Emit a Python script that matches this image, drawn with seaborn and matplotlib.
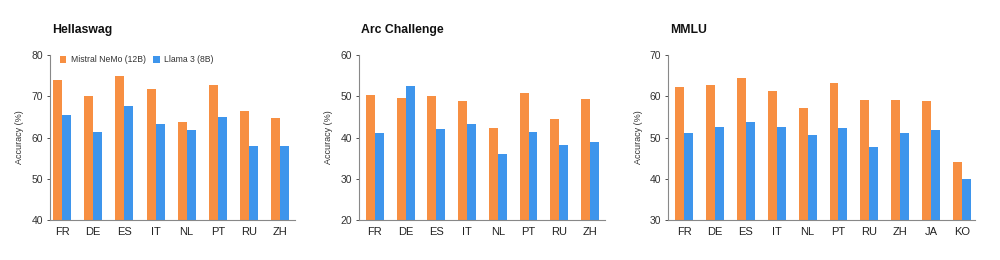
import matplotlib
matplotlib.use("Agg")
import matplotlib.pyplot as plt
import seaborn as sns
import pandas as pd

sns.set_theme(style="white")
plt.rcParams['font.family'] = ['Liberation Sans', 'DejaVu Sans']

models = ["Mistral NeMo (12B)", "Llama 3 (8B)"]
colors = ["#F78F42", "#3E95EC"]

hella_langs = ["FR", "DE", "ES", "IT", "NL", "PT", "RU", "ZH"]
hella_nemo = [74.0, 70.0, 75.0, 71.8, 63.7, 72.8, 66.4, 64.7]
hella_llama = [65.5, 61.3, 67.7, 63.3, 61.9, 64.9, 58.0, 57.9]

arc_langs = ["FR", "DE", "ES", "IT", "NL", "PT", "RU", "ZH"]
arc_nemo = [50.3, 49.5, 50.0, 48.8, 42.4, 50.7, 44.6, 49.4]
arc_llama = [41.1, 52.5, 42.1, 43.3, 35.9, 41.3, 38.1, 38.8]

mmlu_langs = ["FR", "DE", "ES", "IT", "NL", "PT", "RU", "ZH", "JA", "KO"]
mmlu_nemo = [62.3, 62.7, 64.5, 61.3, 57.1, 63.3, 59.2, 59.1, 58.9, 44.0]
mmlu_llama = [51.1, 52.5, 53.7, 52.6, 50.5, 52.4, 47.7, 51.0, 51.8, 40.0]

panels = [
    ("Hellaswag", hella_langs, hella_nemo, hella_llama, (40, 80), [0.050, 0.154, 0.245, 0.634], (-0.39, 7.48)),
    ("Arc Challenge", arc_langs, arc_nemo, arc_llama, (20, 60), [0.359, 0.154, 0.246, 0.634], (-0.52, 7.49)),
    ("MMLU", mmlu_langs, mmlu_nemo, mmlu_llama, (30, 70), [0.668, 0.154, 0.307, 0.634], (-0.52, 9.42)),
]

fig = plt.figure(figsize=(10, 2.6), dpi=100)
fig.patch.set_facecolor("white")

for i, (title, langs, nemo, llama, ylim, pos, xlim) in enumerate(panels):
    ax = fig.add_axes(pos)
    df = pd.DataFrame({
        "lang": langs * 2,
        "acc": nemo + llama,
        "model": [models[0]] * len(langs) + [models[1]] * len(langs),
    })
    sns.barplot(data=df, x="lang", y="acc", hue="model", hue_order=models,
                palette=colors, width=0.58, gap=0, saturation=1,
                ax=ax, legend=(i == 0))
    ax.set_ylim(*ylim)
    ax.set_xlim(*xlim)
    ax.set_yticks(range(ylim[0], ylim[1] + 1, 10))
    ax.set_xlabel("")
    ax.set_ylabel("Accuracy (%)", fontsize=6.5, color="#333333", labelpad=5)
    ax.tick_params(axis="x", labelsize=8, colors="#222222", length=0, pad=5)
    ax.tick_params(axis="y", labelsize=7.5, colors="#333333", length=2, width=0.6, left=True, pad=3)
    for s in ["top", "right"]:
        ax.spines[s].set_visible(False)
    for s in ["left", "bottom"]:
        ax.spines[s].set_color("#888888")
        ax.spines[s].set_linewidth(0.8)
    for b in ax.patches:
        b.set_edgecolor("none")
    fig.text(pos[0] + 0.002, 1 - 33 / 260, title, fontsize=8.8, fontweight="bold",
             color="#111111", ha="left", va="baseline")
    if i == 0:
        leg = ax.legend(loc="upper left", ncol=2, frameon=False, fontsize=6.2,
                        handlelength=0.8, handleheight=0.8, handletextpad=0.5,
                        columnspacing=0.8, borderaxespad=0.0, bbox_to_anchor=(0.025, 1.02))
        for t in leg.get_texts():
            t.set_color("#333333")

fig.savefig("out.png", dpi=100, facecolor="white")
